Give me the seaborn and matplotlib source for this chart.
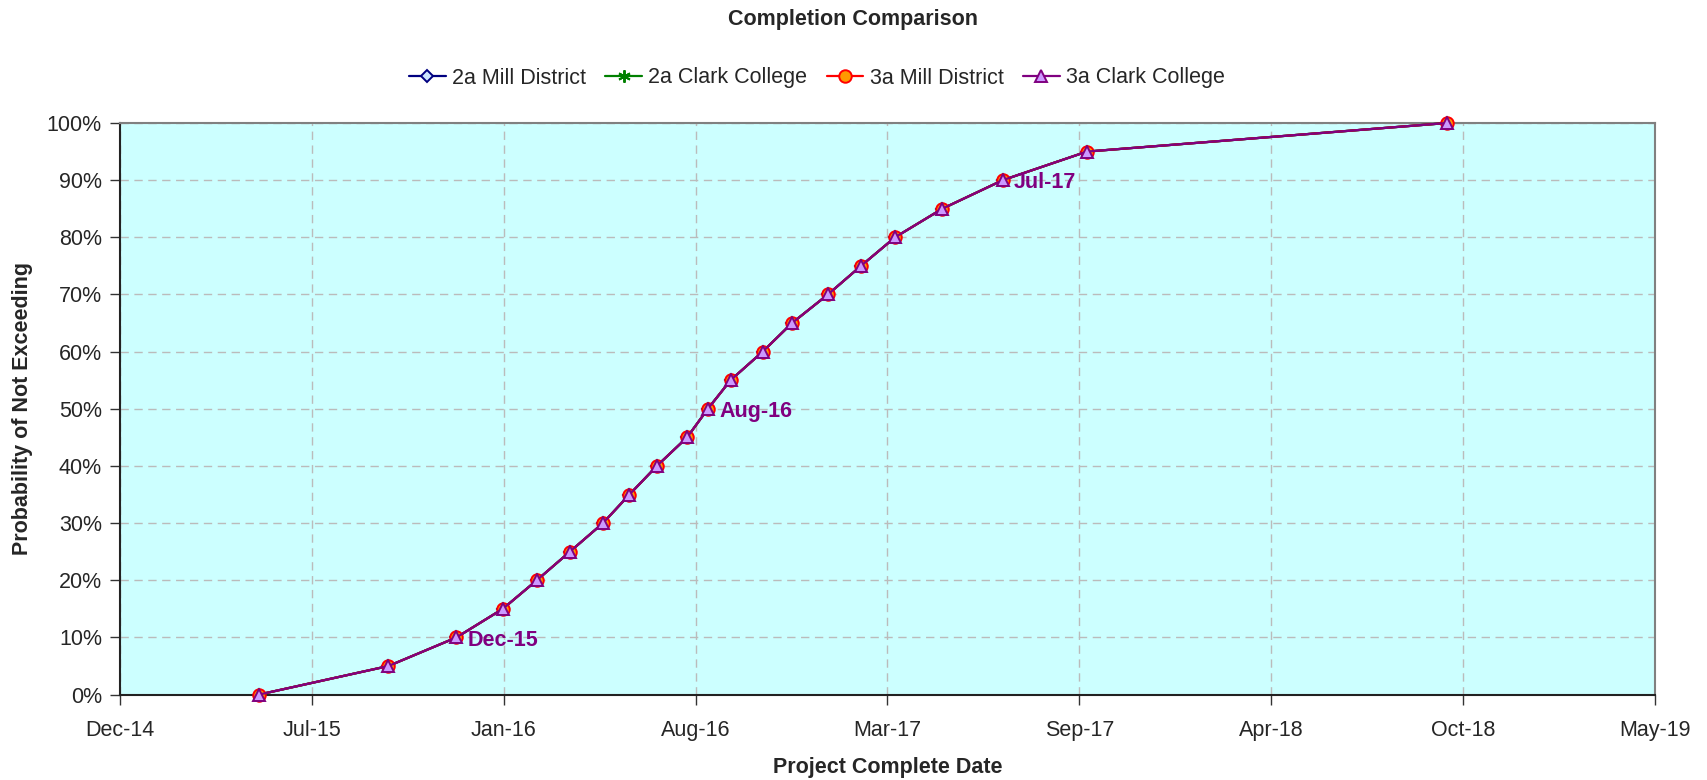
import matplotlib
matplotlib.use("Agg")
import matplotlib.pyplot as plt
import matplotlib.dates as mdates
import seaborn as sns
import pandas as pd
import numpy as np

# ---- data ----
dates = ["2015-05-06", "2015-09-20", "2015-12-01", "2016-01-19", "2016-02-24",
         "2016-03-30", "2016-05-04", "2016-06-01", "2016-06-30", "2016-08-01",
         "2016-08-23", "2016-09-16", "2016-10-20", "2016-11-20", "2016-12-28",
         "2017-02-01", "2017-03-09", "2017-04-28", "2017-07-01", "2017-09-28",
         "2018-10-14"]
prob = [0.00, 0.05, 0.10, 0.15, 0.20, 0.25, 0.30, 0.35, 0.40, 0.45, 0.50,
        0.55, 0.60, 0.65, 0.70, 0.75, 0.80, 0.85, 0.90, 0.95, 1.00]
series_names = ["2a Mill District", "2a Clark College", "3a Mill District", "3a Clark College"]
annot_probs = [0.10, 0.50, 0.90]
annot_labels = ["Dec-15", "Aug-16", "Jul-17"]
xtick_start = "2014-12-10"
xtick_step_days = 203
n_xticks = 9

sns.set_theme(style="white")
plt.rcParams['font.family'] = ['Liberation Sans', 'DejaVu Sans']

FS = 15.5

fig = plt.figure(figsize=(17.07, 7.8), dpi=100)
ax = fig.add_axes([0.0703, 0.1095, 0.8992, 0.7328])
ax.set_facecolor("#CCFFFF")

styles = {
    "2a Mill District": dict(color="#000080", marker="D", mfc="#CCE5FF", mec="#000080", ms=6),
    "2a Clark College": dict(color="#008000", marker=(6, 2, 0), mfc="#008000", mec="#008000", ms=9),
    "3a Mill District": dict(color="#FF0000", marker="o", mfc="#FF9900", mec="#FF0000", ms=9),
    "3a Clark College": dict(color="#800080", marker="^", mfc="#CC99FF", mec="#800080", ms=9),
}

df = pd.DataFrame({"date": pd.to_datetime(dates), "prob": prob})
for name in series_names:
    st = styles[name]
    sns.lineplot(data=df, x="date", y="prob", ax=ax, color=st["color"], lw=1.6,
                 marker=st["marker"], markerfacecolor=st["mfc"], markeredgecolor=st["mec"],
                 markersize=st["ms"], markeredgewidth=1.4, label=name, clip_on=False, zorder=3)

# annotations
for p, lab in zip(annot_probs, annot_labels):
    i = prob.index(p)
    ax.annotate(lab, xy=(pd.Timestamp(dates[i]), p), xytext=(8, -2), textcoords="offset points",
                ha="left", va="center", fontsize=FS, fontweight="bold", color="#800080")

# axes
x0 = pd.Timestamp(xtick_start)
xticks = [x0 + pd.Timedelta(days=xtick_step_days * k) for k in range(n_xticks)]
ax.set_xlim(xticks[0], xticks[-1])
ax.set_xticks(xticks)
ax.xaxis.set_major_formatter(mdates.DateFormatter("%b-%y"))
ax.set_ylim(0, 1)
yt = np.round(np.arange(0, 1.01, 0.1), 2)
ax.set_yticks(yt)
ax.set_yticklabels([f"{int(round(v*100))}%" for v in yt])

ax.grid(True, color="#BBBBBB", linestyle=(0, (6, 4)), lw=1)
ax.tick_params(axis="both", which="major", direction="out", length=7, width=1,
               color="#333333", labelsize=FS, pad=6, bottom=True, left=True)
ax.tick_params(axis="x", pad=11)
for s in ["left", "bottom"]:
    ax.spines[s].set_color("#222222")
    ax.spines[s].set_linewidth(1.5)
for s in ["top", "right"]:
    ax.spines[s].set_color("#808080")
    ax.spines[s].set_linewidth(1.5)

ax.set_xlabel("Project Complete Date", fontsize=FS, fontweight="bold", labelpad=12)
ax.set_ylabel("Probability of Not Exceeding", fontsize=FS, fontweight="bold", labelpad=10)

fig.text(0.5, 1 - 19.6 / 780, "Completion Comparison", fontsize=FS, fontweight="bold",
         ha="center", va="center")
ax.legend(loc="center", bbox_to_anchor=(817 / 1707, 1 - 78 / 780), bbox_transform=fig.transFigure,
          ncol=4, frameon=False, fontsize=FS, handlelength=1.7, handletextpad=0.3,
          columnspacing=0.9)

fig.savefig("out.png", dpi=100)
